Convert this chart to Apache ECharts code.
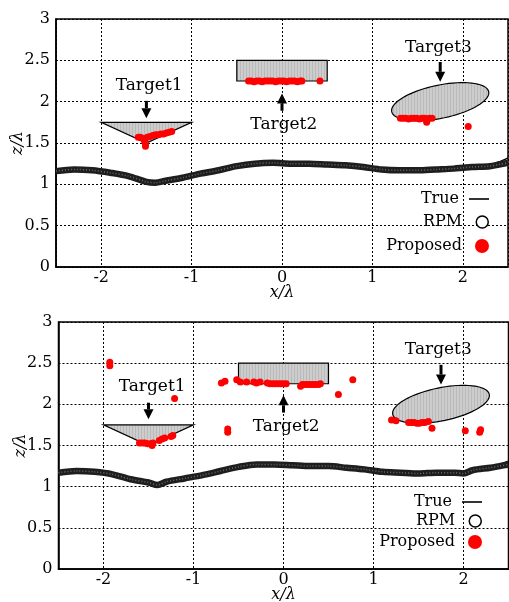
<!DOCTYPE html>
<html>
<head>
<meta charset="utf-8">
<script src="https://cdn.jsdelivr.net/npm/echarts@6/dist/echarts.min.js"></script>
<style>
  html, body { margin: 0; padding: 0; background: #fff; }
  #chart { width: 509px; height: 602px; }
</style>
</head>
<body>
<div id="chart"></div>
<script>
// surface profile (x/λ, z/λ)
const surfX = [-2.5, -2.3, -2.1, -1.9, -1.7, -1.5, -1.4, -1.3, -1.1, -0.9, -0.7, -0.5, -0.3, -0.1,
  0.1, 0.3, 0.5, 0.7, 0.9, 1.1, 1.3, 1.5, 1.7, 1.9, 2.0, 2.1, 2.3, 2.4, 2.5]
const rpmTop = [1.16, 1.18, 1.17, 1.14, 1.10, 1.03, 1.02, 1.04, 1.08, 1.13, 1.17, 1.22, 1.25, 1.26,
  1.25, 1.25, 1.24, 1.23, 1.21, 1.18, 1.17, 1.17, 1.18, 1.19, 1.20, 1.21, 1.22, 1.24, 1.26]
const trueTop = [1.16, 1.18, 1.17, 1.14, 1.10, 1.03, 1.02, 1.04, 1.08, 1.13, 1.17, 1.22, 1.25, 1.26,
  1.25, 1.25, 1.24, 1.23, 1.21, 1.18, 1.17, 1.17, 1.18, 1.19, 1.20, 1.21, 1.23, 1.27, 1.32]
const rpmBot = [1.17, 1.19, 1.18, 1.15, 1.09, 1.05, 1.02, 1.06, 1.10, 1.14, 1.19, 1.24, 1.27, 1.27,
  1.26, 1.25, 1.25, 1.23, 1.21, 1.18, 1.17, 1.16, 1.17, 1.17, 1.16, 1.20, 1.23, 1.25, 1.27]
const trueBot = [1.17, 1.19, 1.18, 1.15, 1.09, 1.05, 1.02, 1.06, 1.10, 1.14, 1.19, 1.24, 1.27, 1.27,
  1.26, 1.25, 1.25, 1.23, 1.21, 1.18, 1.17, 1.16, 1.17, 1.17, 1.16, 1.20, 1.23, 1.27, 1.31]

// proposed method, top panel
const propTopX = [-1.59, -1.57, -1.55, -1.53, -1.52, -1.51, -1.51, -1.49, -1.46, -1.43, -1.40, -1.37,
  -1.34, -1.31, -1.28, -1.25, -1.22,
  -0.37, -0.34, -0.31, -0.28, -0.25, -0.22, -0.19, -0.16, -0.13, -0.10, -0.07, -0.04, -0.01, 0.02,
  0.05, 0.08, 0.11, 0.14, 0.17, 0.20, 0.22, 0.42,
  1.31, 1.34, 1.37, 1.40, 1.43, 1.46, 1.49, 1.52, 1.55, 1.58, 1.60, 1.63, 1.66, 2.06]
const propTopZ = [1.57, 1.57, 1.56, 1.55, 1.52, 1.49, 1.46, 1.57, 1.58, 1.59, 1.60, 1.60,
  1.61, 1.61, 1.62, 1.63, 1.64,
  2.25, 2.25, 2.24, 2.25, 2.25, 2.24, 2.25, 2.25, 2.25, 2.25, 2.24, 2.25, 2.25, 2.25,
  2.24, 2.25, 2.25, 2.25, 2.24, 2.25, 2.25, 2.25,
  1.80, 1.80, 1.80, 1.79, 1.80, 1.80, 1.80, 1.79, 1.80, 1.80, 1.75, 1.80, 1.80, 1.70]

// proposed method, bottom panel
const propBotX = [-1.93, -1.93, -1.21, -0.69, -0.65, -0.62, -0.62,
  -1.60, -1.57, -1.54, -1.51, -1.48, -1.46, -1.45, -1.38, -1.35, -1.32, -1.25, -1.23,
  -0.52, -0.48, -0.41, -0.33, -0.30, -0.26, -0.18, -0.15, -0.12, -0.09, -0.06, -0.03, 0.00, 0.03,
  0.19, 0.21, 0.24, 0.27, 0.30, 0.33, 0.36, 0.39, 0.41, 0.61, 0.77,
  1.20, 1.25, 1.39, 1.42, 1.45, 1.48, 1.51, 1.54, 1.57, 1.61, 1.65, 2.02, 2.19, 2.18]
const propBotZ = [2.47, 2.51, 2.07, 2.26, 2.28, 1.66, 1.70,
  1.53, 1.53, 1.53, 1.52, 1.52, 1.50, 1.53, 1.56, 1.58, 1.59, 1.61, 1.62,
  2.30, 2.27, 2.27, 2.27, 2.26, 2.27, 2.26, 2.25, 2.25, 2.25, 2.25, 2.25, 2.25, 2.25,
  2.22, 2.24, 2.24, 2.24, 2.24, 2.24, 2.24, 2.24, 2.25, 2.12, 2.30,
  1.81, 1.80, 1.78, 1.78, 1.78, 1.77, 1.77, 1.78, 1.78, 1.79, 1.71, 1.68, 1.69, 1.66]

// targets
const tri1X = [-2, -1, -1.5]
const tri1Z = [1.75, 1.75, 1.5]
const rect2X = [-0.5, 0.5]
const rect2Z = [2.25, 2.5]
const ell3Center = [1.75, 2.0]
const ell3Radii = [0.55, 0.2]
const ell3Tilt = 13 // degrees

const targetNames = ['Target1', 'Target2', 'Target3']
const labelTopX = [-1.47, 0.02, 1.73]
const labelTopZ = [2.2, 1.72, 2.66]
const labelBotX = [-1.46, 0.03, 1.72]
const labelBotZ = [2.21, 1.73, 2.67]
const arrowX = [-1.5, 0, 1.75]
const arrowTopFrom = [2.01, 1.89, 2.48]
const arrowTopTo = [1.80, 2.10, 2.24]
const arrowBotFrom = [2.02, 1.90, 2.48]
const arrowBotTo = [1.82, 2.11, 2.24]

const FONT = 'DejaVu Serif'

function hatchPattern() {
  const c = document.createElement('canvas')
  c.width = 3
  c.height = 3
  const g = c.getContext('2d')
  g.fillStyle = '#cdcdcd'
  g.fillRect(0, 0, 3, 3)
  g.fillStyle = '#b9b9b9'
  g.fillRect(0, 0, 1, 3)
  return c
}
const hatch = hatchPattern()

function pair(xs, zs) {
  return xs.map((x, i) => [x, zs[i]])
}

function targetsSeries(idx) {
  return {
    type: 'custom',
    xAxisIndex: idx,
    yAxisIndex: idx,
    z: 3,
    silent: true,
    data: [[0, 0]],
    renderItem(params, api) {
      const style = { fill: { image: hatch, repeat: 'repeat' }, stroke: '#000', lineWidth: 1.2 }
      const tri = tri1X.map((x, i) => api.coord([x, tri1Z[i]]))
      const r0 = api.coord([rect2X[0], rect2Z[1]])
      const r1 = api.coord([rect2X[1], rect2Z[0]])
      const t = ell3Tilt * Math.PI / 180
      const ell = []
      for (let k = 0; k < 72; k++) {
        const a = k / 72 * Math.PI * 2
        const u = ell3Radii[0] * Math.cos(a)
        const v = ell3Radii[1] * Math.sin(a)
        ell.push(api.coord([
          ell3Center[0] + u * Math.cos(t) - v * Math.sin(t),
          ell3Center[1] + u * Math.sin(t) + v * Math.cos(t)
        ]))
      }
      return {
        type: 'group',
        children: [
          { type: 'polygon', shape: { points: tri }, style },
          { type: 'rect', shape: { x: r0[0], y: r0[1], width: r1[0] - r0[0], height: r1[1] - r0[1] }, style },
          { type: 'polygon', shape: { points: ell }, style }
        ]
      }
    }
  }
}

function arrowSeries(idx, from, to) {
  return {
    type: 'custom',
    xAxisIndex: idx,
    yAxisIndex: idx,
    z: 4,
    silent: true,
    data: arrowX.map((x, i) => [x, from[i], to[i]]),
    renderItem(params, api) {
      const p0 = api.coord([api.value(0), api.value(1)])
      const p1 = api.coord([api.value(0), api.value(2)])
      const dir = p1[1] > p0[1] ? 1 : -1
      const head = 10
      const base = p1[1] - dir * head
      return {
        type: 'group',
        children: [
          { type: 'line', shape: { x1: p0[0], y1: p0[1], x2: p0[0], y2: base }, style: { stroke: '#000', lineWidth: 3 } },
          { type: 'polygon', shape: { points: [[p1[0] - 5, base], [p1[0] + 5, base], [p1[0], p1[1]]] }, style: { fill: '#000' } }
        ]
      }
    }
  }
}

function labelSeries(idx, xs, zs) {
  return {
    type: 'custom',
    xAxisIndex: idx,
    yAxisIndex: idx,
    z: 4,
    silent: true,
    data: xs.map((x, i) => [x, zs[i], i]),
    renderItem(params, api) {
      const p = api.coord([api.value(0), api.value(1)])
      return {
        type: 'text',
        x: p[0],
        y: p[1],
        style: {
          text: targetNames[api.value(2)],
          font: '17px "' + FONT + '"',
          fill: '#000',
          align: 'center',
          verticalAlign: 'middle'
        }
      }
    }
  }
}

function profileSeries(idx, tru, rpm) {
  return [
    {
      name: 'True', type: 'line', xAxisIndex: idx, yAxisIndex: idx, z: 2,
      data: pair(surfX, tru), showSymbol: false, smooth: 0.3,
      lineStyle: { color: '#000', width: 1.4 }
    },
    {
      name: 'RPM', type: 'line', xAxisIndex: idx, yAxisIndex: idx, z: 3,
      data: pair(surfX, rpm), showSymbol: false, smooth: 0.3,
      lineStyle: { color: '#1e1e1e', width: 6.5 }
    },
    {
      name: 'RPM', type: 'line', xAxisIndex: idx, yAxisIndex: idx, z: 3,
      data: pair(surfX, rpm), showSymbol: false, smooth: 0.3,
      lineStyle: { color: '#6a6a6a', width: 1.5, type: [1, 2] }
    }
  ]
}

function proposedSeries(idx, xs, zs) {
  return {
    name: 'Proposed', type: 'scatter', xAxisIndex: idx, yAxisIndex: idx, z: 5,
    data: pair(xs, zs), symbolSize: 7,
    itemStyle: { color: '#ff0000', opacity: 1 }
  }
}

function legendItem(name, right, centerY, size, icon, itemStyle) {
  return {
    data: [{ name, icon, itemStyle }],
    orient: 'vertical',
    align: 'right',
    right,
    top: centerY - 9,
    padding: 0,
    itemWidth: 20,
    itemHeight: size,
    selectedMode: false,
    textStyle: { fontFamily: FONT, fontSize: 16, color: '#000', lineHeight: 18, padding: [0, 5, 0, 0] }
  }
}

const lineIcon = 'path://M0,0H20V1.6H0Z'
const legends = []
const legendRows = [[20, 199, 222, 246], [27, 502, 521, 542]]
legendRows.forEach(([right, y0, y1, y2]) => {
  legends.push(legendItem('True', right, y0, 14, lineIcon, { color: '#000' }))
  legends.push(legendItem('RPM', right, y1, 12, 'circle', { color: '#fff', borderColor: '#000', borderWidth: 1.5 }))
  legends.push(legendItem('Proposed', right, y2, 14, 'circle', { color: '#ff0000' }))
})

function xAxis(idx) {
  return {
    type: 'value', gridIndex: idx, min: -2.5, max: 2.5, splitNumber: 5,
    name: 'x/λ', nameLocation: 'middle', nameGap: 18, nameMoveOverlap: false,
    nameTextStyle: { fontFamily: FONT, fontSize: 16, fontStyle: 'italic', color: '#000' },
    axisLine: { show: true, onZero: false, lineStyle: { color: '#000', width: 1.5 } },
    axisTick: { show: false },
    axisLabel: { fontFamily: FONT, fontSize: 16, color: '#000', margin: 3, showMinLabel: false, showMaxLabel: false },
    splitLine: { show: true, lineStyle: { color: '#000', width: 1, type: [2, 2] } }
  }
}

function yAxis(idx) {
  return {
    type: 'value', gridIndex: idx, min: 0, max: 3, interval: 0.5,
    name: 'z/λ', nameLocation: 'middle', nameGap: 30, nameMoveOverlap: false,
    nameTextStyle: { fontFamily: FONT, fontSize: 16, fontStyle: 'italic', color: '#000' },
    axisLine: { show: true, onZero: false, lineStyle: { color: '#000', width: 1.5 } },
    axisTick: { show: false },
    axisLabel: { fontFamily: FONT, fontSize: 16, color: '#000', margin: 6 },
    splitLine: { show: true, lineStyle: { color: '#000', width: 1, type: [2, 2] } }
  }
}

const chart = echarts.init(document.getElementById('chart'))
chart.setOption({
  animation: false,
  backgroundColor: '#fff',
  grid: [
    { left: 56, top: 19, width: 452, height: 248, show: true, borderColor: '#000', borderWidth: 1.5, outerBoundsMode: 'none' },
    { left: 58.5, top: 322, width: 450, height: 247, show: true, borderColor: '#000', borderWidth: 1.5, outerBoundsMode: 'none' }
  ],
  xAxis: [xAxis(0), xAxis(1)],
  yAxis: [yAxis(0), yAxis(1)],
  legend: legends,
  series: [
    ...profileSeries(0, trueTop, rpmTop),
    targetsSeries(0),
    arrowSeries(0, arrowTopFrom, arrowTopTo),
    labelSeries(0, labelTopX, labelTopZ),
    proposedSeries(0, propTopX, propTopZ),
    ...profileSeries(1, trueBot, rpmBot),
    targetsSeries(1),
    arrowSeries(1, arrowBotFrom, arrowBotTo),
    labelSeries(1, labelBotX, labelBotZ),
    proposedSeries(1, propBotX, propBotZ)
  ]
})
</script>
</body>
</html>
